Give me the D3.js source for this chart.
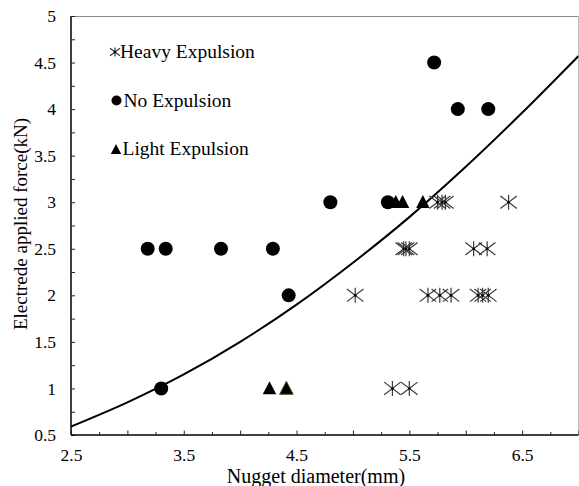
<!DOCTYPE html>
<html>
<head>
<meta charset="utf-8">
<script src="https://cdn.jsdelivr.net/npm/d3@7"></script>
<style>
  html, body { margin: 0; padding: 0; background: #fff; }
  svg { display: block; }
  text { font-family: "Liberation Serif", "Times New Roman", serif; fill: #000; }
</style>
</head>
<body>
<svg id="chart" width="579" height="486"></svg>
<script>
// ---- data ----
const heavyX = [5.75, 5.79, 5.82, 6.38, 5.45, 5.47, 5.50, 6.07, 6.19, 5.02, 5.665, 5.77, 5.87, 6.11, 6.15, 6.20, 5.35, 5.50];
const heavyY = [3, 3, 3, 3, 2.5, 2.5, 2.5, 2.5, 2.5, 2, 2, 2, 2, 2, 2, 2, 1, 1];

const noX = [3.18, 3.34, 3.83, 4.29, 3.30, 4.43, 4.80, 5.31, 5.72, 5.93, 6.20];
const noY = [2.5, 2.5, 2.5, 2.5, 1, 2, 3, 3, 4.5, 4, 4];

const lightX = [4.26, 4.41, 5.38, 5.44, 5.62];
const lightY = [1, 1, 3, 3, 3];

const curveX = [2.5, 3.0, 3.5, 4.0, 4.5, 5.0, 5.5, 6.0, 6.5, 7.0];
const curveY = [0.59, 0.85, 1.15, 1.50, 1.90, 2.35, 2.84, 3.38, 3.96, 4.57];

const xTickLabels = [2.5, 3.5, 4.5, 5.5, 6.5];
const yTickLabels = [0.5, 1, 1.5, 2, 2.5, 3, 3.5, 4, 4.5, 5];

const legendLabels = ["Heavy Expulsion", "No Expulsion", "Light Expulsion"];

// ---- layout ----
const svg = d3.select("#chart");
const L = 71, R = 578.5, T = 16, B = 435;
const x = d3.scaleLinear().domain([2.5, 7]).range([L, R]);
const y = d3.scaleLinear().domain([0.5, 5]).range([B, T]);

const fontTick = 17.5;

// frame (top/right grey)
svg.append("line").attr("x1", L).attr("x2", R).attr("y1", T + 0.5).attr("y2", T + 0.5)
  .attr("stroke", "#8a8a8a").attr("stroke-width", 1);
svg.append("line").attr("x1", R).attr("x2", R).attr("y1", T).attr("y2", B)
  .attr("stroke", "#bdbdbd").attr("stroke-width", 1);

// minor ticks every 0.25
const xTicksAll = d3.range(2.5, 7.001, 0.25);
const yTicksAll = d3.range(0.5, 5.001, 0.25);

const yAxis = d3.axisLeft(y)
  .tickValues(yTicksAll)
  .tickSize(-4)
  .tickPadding(15)
  .tickFormat(d => yTickLabels.some(v => Math.abs(v - d) < 1e-6) ? String(+d.toFixed(2)) : "");
const gy = svg.append("g").attr("transform", `translate(${L},0)`).call(yAxis);
gy.select(".domain").attr("stroke", "#000").attr("stroke-width", 1.5).attr("d", `M0,${T}V${B}`);
gy.selectAll(".tick line").attr("stroke", "#222").attr("stroke-width", 1);
gy.selectAll(".tick text").style("font-family", '"Liberation Serif", "Times New Roman", serif')
  .style("font-size", fontTick + "px").attr("fill", "#000");

const xAxis = d3.axisBottom(x)
  .tickValues(xTicksAll)
  .tickSize(0)
  .tickPadding(13.5)
  .tickFormat(d => xTickLabels.some(v => Math.abs(v - d) < 1e-6) ? String(+d.toFixed(2)) : "");
const gx = svg.append("g").attr("transform", `translate(0,${B})`).call(xAxis);
gx.select(".domain").attr("stroke", "#000").attr("stroke-width", 1.5).attr("d", `M${L},0H${R}`);
gx.selectAll(".tick line")
  .attr("y2", d => (Math.abs((d * 2) % 1) < 1e-6) ? -4.5 : -3)
  .attr("stroke", "#222").attr("stroke-width", 1);
gx.selectAll(".tick text").style("font-family", '"Liberation Serif", "Times New Roman", serif')
  .style("font-size", fontTick + "px").attr("fill", "#000");

// axis titles
svg.append("text").attr("x", 316).attr("y", 483).attr("text-anchor", "middle")
  .style("font-size", "20px").text("Nugget diameter(mm)");
svg.append("text").attr("transform", `translate(27,224) rotate(-90)`)
  .attr("text-anchor", "middle").style("font-size", "19px").text("Electrede applied force(kN)");

// clip for curve
svg.append("clipPath").attr("id", "clip").append("rect")
  .attr("x", L).attr("y", T).attr("width", R - L).attr("height", B - T);

// fitted curve
const curveData = curveX.map((v, i) => [v, curveY[i]]);
svg.append("path").datum(curveData)
  .attr("clip-path", "url(#clip)")
  .attr("fill", "none").attr("stroke", "#000").attr("stroke-width", 2)
  .attr("d", d3.line().x(d => x(d[0])).y(d => y(d[1])).curve(d3.curveMonotoneX));

// marker helpers
function asterisk(g, cx, cy, s) {
  const h = s, w = s * 1.1;
  const p = `M${cx},${cy - h * 0.5}V${cy + h * 0.5}` +
            `M${cx - w * 0.5},${cy - h * 0.42}L${cx + w * 0.5},${cy + h * 0.42}` +
            `M${cx - w * 0.5},${cy + h * 0.42}L${cx + w * 0.5},${cy - h * 0.42}`;
  g.append("path").attr("d", p).attr("stroke", "#3a3a3a").attr("stroke-width", 1.2).attr("fill", "none");
  g.append("circle").attr("cx", cx).attr("cy", cy).attr("r", 1.3).attr("fill", "#000");
}
function triangle(g, cx, cy, s, stroke) {
  const p = `M${cx},${cy - s * 0.55}L${cx + s * 0.52},${cy + s * 0.45}L${cx - s * 0.52},${cy + s * 0.45}Z`;
  g.append("path").attr("d", p).attr("fill", "#000").attr("stroke", stroke || "none").attr("stroke-width", 1);
}

// points
const gPts = svg.append("g");
noX.forEach((v, i) => {
  gPts.append("circle").attr("cx", x(v)).attr("cy", y(noY[i])).attr("r", 7).attr("fill", "#000");
});
lightX.forEach((v, i) => {
  triangle(gPts, x(v), y(lightY[i]), 13, i === 1 ? "#3d5a2a" : null);
});
heavyX.forEach((v, i) => {
  asterisk(gPts, x(v), y(heavyY[i]), 15);
});

// legend (text with symbol)
const lg = svg.append("g");
const legY = [58, 107, 155];
asterisk(lg, 115, legY[0] - 6, 9);
lg.append("circle").attr("cx", 116.5).attr("cy", legY[1] - 6.5).attr("r", 5).attr("fill", "#000");
triangle(lg, 116, legY[2] - 5.5, 10);
lg.append("text").attr("x", 120).attr("y", legY[0]).style("font-size", "19.5px").text(legendLabels[0]);
lg.append("text").attr("x", 123.5).attr("y", legY[1]).style("font-size", "19.5px").text(legendLabels[1]);
lg.append("text").attr("x", 122.5).attr("y", legY[2]).style("font-size", "19.5px").text(legendLabels[2]);
</script>
</body>
</html>
